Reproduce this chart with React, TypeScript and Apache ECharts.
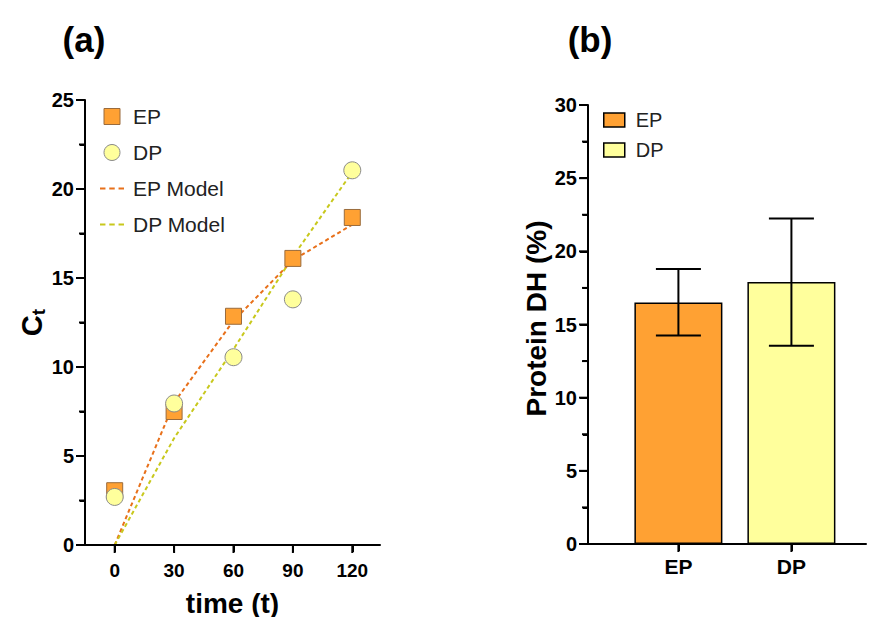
import React, { useEffect, useRef } from "react";
import * as echarts from "echarts";

const timePoints = [0, 30, 60, 90, 120];
const epData = [3.05, 7.5, 12.85, 16.1, 18.4];
const dpData = [2.7, 7.95, 10.55, 13.8, 21.05];
const epModel = [0, 8.0, 12.6, 16.0, 18.0];
const dpModel = [0, 6.0, 11.0, 16.2, 20.95];
const ctTicks = [0, 5, 10, 15, 20, 25];
const ctMinorTicks = [2.5, 7.5, 12.5, 17.5, 22.5];

const barCategories = ["EP", "DP"];
const barPositions = [1, 2];
const barMeans = [16.5, 17.9];
const barLow = [14.25, 13.55];
const barHigh = [18.8, 22.25];
const dhTicks = [0, 5, 10, 15, 20, 25, 30];
const dhMinorTicks = [2.5, 7.5, 12.5, 17.5, 22.5, 27.5];

const A_X_MIN = -15;
const A_X_MAX = 134;
const A_Y_MAX = 25;
const B_X_MIN = 0.2;
const B_X_MAX = 2.66;
const B_Y_MAX = 30;

const FONT = "'Liberation Sans', Arial, Helvetica, sans-serif";
const EP_COLOR = "#FFA133";
const DP_COLOR = "#FFFF9C";
const EP_MODEL_COLOR = "#E8701A";
const DP_MODEL_COLOR = "#C8C81C";
const DASH_ICON = "path://M0 0h5v2h-5z M8.5 0h5v2h-5z M17 0h5v2h-5z";

function mkAxisLine() {
  return { show: true, onZero: false, lineStyle: { color: "#000", width: 2, opacity: 1 } };
}
function mkTick(len: number, custom?: number[]) {
  const t: any = { show: true, inside: false, length: len, lineStyle: { color: "#000", width: 2, opacity: 1 } };
  if (custom) t.customValues = custom;
  return t;
}
function mkMinor() {
  return { show: true, splitNumber: 2, length: 5, lineStyle: { color: "#000", width: 2, opacity: 1 } };
}

function frameSeries(
  idx: number,
  xMin: number,
  xMax: number,
  yMax: number,
  xTicks: number[],
  yTicks: number[],
  yMinor: number[]
) {
  return {
    type: "custom",
    name: "frame" + idx,
    xAxisIndex: idx,
    yAxisIndex: idx,
    clip: false,
    silent: true,
    z: 6,
    data: [[xMin, 0]],
    renderItem: (params: any, api: any) => {
      const style = { stroke: "#000", lineWidth: 2, lineCap: "butt" };
      const o = api.coord([xMin, 0]);
      const xe = api.coord([xMax, 0]);
      const ye = api.coord([xMin, yMax]);
      const children: any[] = [
        { type: "line", shape: { x1: o[0] - 1, y1: o[1], x2: xe[0], y2: xe[1] }, style },
        { type: "line", shape: { x1: o[0], y1: o[1] + 1, x2: ye[0], y2: ye[1] }, style },
      ];
      xTicks.forEach((v) => {
        const p = api.coord([v, 0]);
        children.push({ type: "line", shape: { x1: p[0], y1: p[1], x2: p[0], y2: p[1] + 8 }, style });
      });
      yTicks.forEach((v) => {
        const p = api.coord([xMin, v]);
        children.push({ type: "line", shape: { x1: p[0] - 9, y1: p[1], x2: p[0], y2: p[1] }, style });
      });
      yMinor.forEach((v) => {
        const p = api.coord([xMin, v]);
        children.push({ type: "line", shape: { x1: p[0] - 6, y1: p[1], x2: p[0], y2: p[1] }, style });
      });
      return { type: "group", children };
    },
  };
}

export default function App() {
  const ref = useRef<HTMLDivElement>(null);
  useEffect(() => {
    if (!ref.current) return;
    const chart = echarts.init(ref.current, undefined, { renderer: "svg" });
    const pair = (xs: number[], ys: number[]) => xs.map((x, i) => [x, ys[i]]);
    const option: any = {
      animation: false,
      backgroundColor: "#fff",
      textStyle: { fontFamily: FONT },
      title: [
        {
          text: "(a)",
          left: 79,
          top: 17,
          textAlign: "center",
          textStyle: { fontSize: 35, fontWeight: "bold", color: "#000", fontFamily: FONT },
        },
        {
          text: "(b)",
          left: 585,
          top: 17,
          textAlign: "center",
          textStyle: { fontSize: 35, fontWeight: "bold", color: "#000", fontFamily: FONT },
        },
      ],
      legend: [
        {
          orient: "vertical",
          left: 100,
          top: 106,
          padding: 0,
          itemWidth: 24,
          itemHeight: 16,
          itemGap: 15,
          textStyle: { fontSize: 21, color: "#222", padding: [0, 0, 0, 4], fontFamily: FONT },
          data: [
            {
              name: "EP",
              icon: "path://M0 0H10V10H0Z",
              itemStyle: { color: EP_COLOR, borderColor: "#9a6b3c", borderWidth: 1 },
            },
            {
              name: "DP",
              icon: "circle",
              itemStyle: { color: DP_COLOR, borderColor: "#8a8a8a", borderWidth: 1 },
            },
            { name: "EP Model", icon: DASH_ICON, itemStyle: { color: EP_MODEL_COLOR, borderWidth: 0 } },
            { name: "DP Model", icon: DASH_ICON, itemStyle: { color: DP_MODEL_COLOR, borderWidth: 0 } },
          ],
        },
        {
          orient: "vertical",
          left: 603,
          top: 110,
          padding: 0,
          itemWidth: 21,
          itemHeight: 14,
          itemGap: 10,
          textStyle: { fontSize: 20, color: "#222", padding: [0, 0, 0, 6], fontFamily: FONT },
          data: [
            {
              name: "EP",
              icon: "rect",
              itemStyle: { color: EP_COLOR, borderColor: "#000", borderWidth: 1.5 },
            },
            {
              name: "DP",
              icon: "rect",
              itemStyle: { color: DP_COLOR, borderColor: "#000", borderWidth: 1.5 },
            },
          ],
        },
      ],
      grid: [
        { left: 85, top: 100, width: 295, height: 445, outerBoundsMode: "none", containLabel: false },
        { left: 588, top: 105, width: 278, height: 439, outerBoundsMode: "none", containLabel: false },
      ],
      xAxis: [
        {
          type: "value",
          gridIndex: 0,
          position: "bottom",
          min: A_X_MIN,
          max: A_X_MAX,
          splitLine: { show: false },
          axisLine: mkAxisLine(),
          axisTick: mkTick(7, timePoints),
          axisLabel: {
            customValues: timePoints,
            fontSize: 19,
            fontWeight: "bold",
            color: "#000",
            margin: 16,
            fontFamily: FONT,
          },
          name: "time (t)",
          nameLocation: "middle",
          nameGap: 44,
          nameTextStyle: { fontSize: 28, fontWeight: "bold", color: "#000", fontFamily: FONT },
        },
        {
          type: "value",
          gridIndex: 1,
          position: "bottom",
          min: B_X_MIN,
          max: B_X_MAX,
          splitLine: { show: false },
          axisLine: mkAxisLine(),
          axisTick: mkTick(7, barPositions),
          axisLabel: {
            customValues: barPositions,
            formatter: (v: number) => barCategories[barPositions.indexOf(Math.round(v))] ?? "",
            fontSize: 21,
            fontWeight: "bold",
            color: "#000",
            margin: 12,
            fontFamily: FONT,
          },
        },
      ],
      yAxis: [
        {
          type: "value",
          gridIndex: 0,
          position: "left",
          min: 0,
          max: A_Y_MAX,
          interval: 5,
          splitLine: { show: false },
          axisLine: mkAxisLine(),
          axisTick: mkTick(8),
          minorTick: mkMinor(),
          axisLabel: { fontSize: 20, fontWeight: "bold", color: "#000", margin: 11, fontFamily: FONT },
          name: "{c|C}{t|t}",
          nameLocation: "middle",
          nameRotate: 90,
          nameGap: 37,
          nameTextStyle: {
            fontFamily: FONT,
            rich: {
              c: { fontSize: 29, fontWeight: "bold", color: "#000", lineHeight: 32, fontFamily: FONT },
              t: {
                fontSize: 19,
                fontWeight: "bold",
                color: "#000",
                lineHeight: 19,
                verticalAlign: "bottom",
                padding: [12, 0, 0, 0],
                fontFamily: FONT,
              },
            },
          },
        },
        {
          type: "value",
          gridIndex: 1,
          position: "left",
          min: 0,
          max: B_Y_MAX,
          interval: 5,
          splitLine: { show: false },
          axisLine: mkAxisLine(),
          axisTick: mkTick(8),
          minorTick: mkMinor(),
          axisLabel: { fontSize: 20, fontWeight: "bold", color: "#000", margin: 11, fontFamily: FONT },
          name: "Protein DH (%)",
          nameLocation: "middle",
          nameRotate: 90,
          nameGap: 38,
          nameTextStyle: {
            fontSize: 28,
            fontWeight: "bold",
            color: "#000",
            fontFamily: FONT,
            padding: [0, 0, 0, 12],
          },
        },
      ],
      series: [
        {
          name: "EP Model",
          type: "line",
          xAxisIndex: 0,
          yAxisIndex: 0,
          data: pair(timePoints, epModel),
          symbol: "none",
          showSymbol: false,
          z: 1,
          color: EP_MODEL_COLOR,
          lineStyle: { color: EP_MODEL_COLOR, width: 2, type: [4, 3] },
        },
        {
          name: "DP Model",
          type: "line",
          xAxisIndex: 0,
          yAxisIndex: 0,
          data: pair(timePoints, dpModel),
          symbol: "none",
          showSymbol: false,
          z: 1,
          color: DP_MODEL_COLOR,
          lineStyle: { color: DP_MODEL_COLOR, width: 2, type: [4, 3] },
        },
        {
          name: "EP",
          type: "scatter",
          xAxisIndex: 0,
          yAxisIndex: 0,
          data: pair(timePoints, epData),
          symbol: "rect",
          symbolSize: 16,
          z: 3,
          itemStyle: { color: EP_COLOR, borderColor: "#9a6b3c", borderWidth: 1, opacity: 1 },
        },
        {
          name: "DP",
          type: "scatter",
          xAxisIndex: 0,
          yAxisIndex: 0,
          data: pair(timePoints, dpData),
          symbol: "circle",
          symbolSize: 17,
          z: 4,
          itemStyle: { color: DP_COLOR, borderColor: "#8a8a8a", borderWidth: 1, opacity: 1 },
        },
        {
          name: "EP",
          type: "bar",
          xAxisIndex: 1,
          yAxisIndex: 1,
          data: [[barPositions[0], barMeans[0]]],
          barWidth: 88,
          barGap: "-100%",
          itemStyle: { color: EP_COLOR, borderColor: "#000", borderWidth: 1.5 },
        },
        {
          name: "DP",
          type: "bar",
          xAxisIndex: 1,
          yAxisIndex: 1,
          data: [[barPositions[1], barMeans[1]]],
          barWidth: 88,
          barGap: "-100%",
          itemStyle: { color: DP_COLOR, borderColor: "#000", borderWidth: 1.5 },
        },
        {
          name: "Error",
          type: "custom",
          xAxisIndex: 1,
          yAxisIndex: 1,
          z: 5,
          data: barCategories.map((_, i) => [barPositions[i], barLow[i], barHigh[i]]),
          renderItem: (params: any, api: any) => {
            const x = api.value(0);
            const lo = api.coord([x, api.value(1)]);
            const hi = api.coord([x, api.value(2)]);
            const half = 22.5;
            const style = { stroke: "#000", lineWidth: 2 };
            return {
              type: "group",
              children: [
                { type: "line", shape: { x1: lo[0], y1: lo[1], x2: hi[0], y2: hi[1] }, style },
                { type: "line", shape: { x1: hi[0] - half, y1: hi[1], x2: hi[0] + half, y2: hi[1] }, style },
                { type: "line", shape: { x1: lo[0] - half, y1: lo[1], x2: lo[0] + half, y2: lo[1] }, style },
              ],
            };
          },
        },
        frameSeries(0, A_X_MIN, A_X_MAX, A_Y_MAX, timePoints, ctTicks, ctMinorTicks),
        frameSeries(1, B_X_MIN, B_X_MAX, B_Y_MAX, barPositions, dhTicks, dhMinorTicks),
      ],
    };
    chart.setOption(option);
    return () => chart.dispose();
  }, []);
  return (
    <div
      ref={ref}
      style={{ position: "fixed", left: 0, top: 0, width: 871, height: 617, background: "#fff" }}
    />
  );
}
